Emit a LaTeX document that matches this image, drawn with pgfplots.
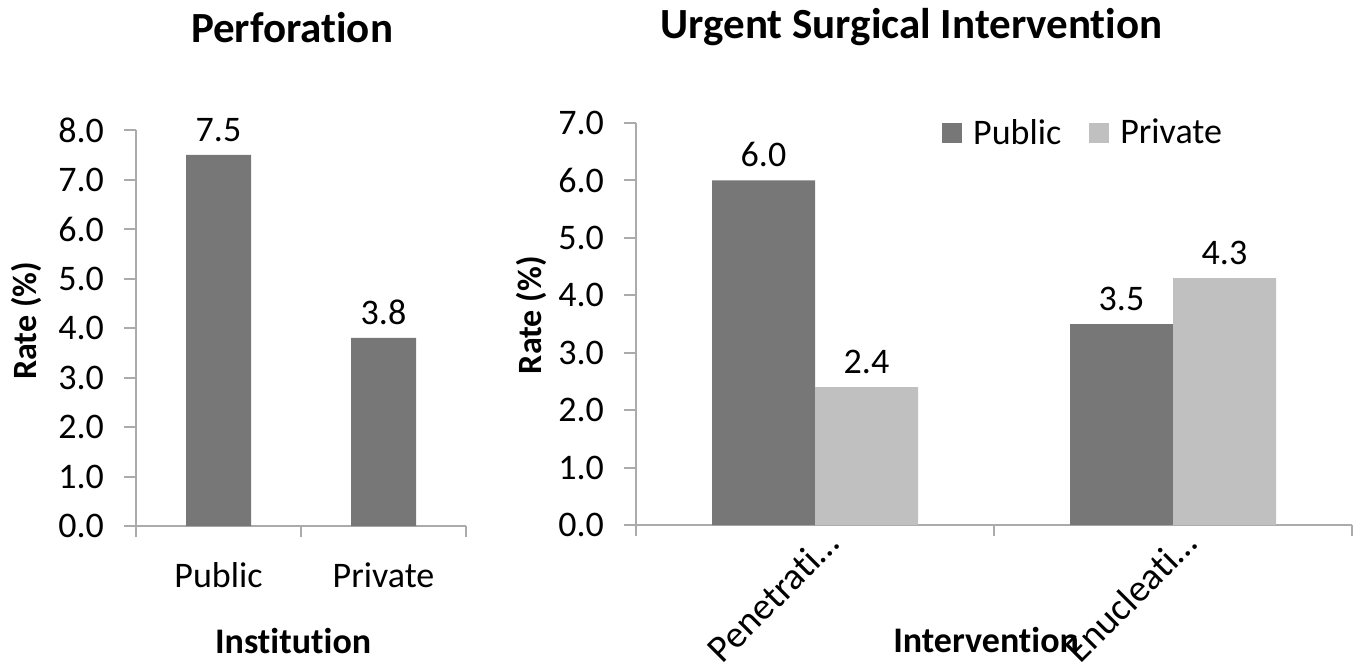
\documentclass[border=0pt]{standalone}
\usepackage{fontspec}
\setmainfont{Carlito}[RawFeature={-liga;-clig}]
\usepackage{pgfplots}
\pgfplotsset{compat=1.18}

\definecolor{darkbar}{HTML}{777777}
\definecolor{lightbar}{HTML}{C0C0C0}
\definecolor{axisgray}{HTML}{ABABAB}

\pgfplotsset{
  excelbar/.style={
    scale only axis,
    axis x line*=bottom,
    axis y line*=left,
    axis line style={draw=axisgray, line width=1pt, -},
    tick align=outside,
    ymin=0,
    xmin=-0.5, xmax=1.5,
    xtick={0,1},
    major x tick style={draw=none},
    minor xtick={-0.5,0.5,1.5},
    minor tick length=5.5pt,
    minor x tick style={draw=axisgray, line width=1pt},
    major tick length=6pt,
    major y tick style={draw=axisgray, line width=1pt},
    ytick distance=1,
    yticklabel style={
      font=\fontsize{18}{20}\selectfont, xshift=-6.5pt,
      /pgf/number format/.cd, fixed, fixed zerofill, precision=1, assume math mode=true},
    xticklabel style={font=\fontsize{18}{20}\selectfont},
    ylabel style={font=\bfseries\fontsize{17}{19}\selectfont, anchor=base},
    xlabel style={font=\bfseries\fontsize{18}{20}\selectfont, anchor=base},
    title style={font=\bfseries\fontsize{21.5}{24}\selectfont, anchor=base, yshift=-6pt},
    nodes near coords={\pgfmathprintnumber[fixed,fixed zerofill,precision=1,assume math mode=true]{\pgfplotspointmeta}},
    nodes near coords style={font=\fontsize{18}{20}\selectfont, anchor=south, inner sep=0pt, yshift=6.5pt, text=black},
    ylabel={Rate (\%)},
  }
}

\begin{document}
\begin{tikzpicture}
\path[use as bounding box] (0,0) rectangle (681.5pt,-335.5pt);

% Perforation rate by institution
\begin{axis}[
  excelbar,
  at={(68pt,-263pt)}, anchor=south west,
  width=165pt, height=198pt,
  ymax=8,
  ybar, bar width=32.5pt,
  xticklabels={Public, Private},
  xticklabel style={anchor=base, yshift=-24.5pt},
  title={Perforation},
  title style={at={(rel axis cs:0.473,1.222)}},
  xlabel={Institution},
  xlabel style={at={(rel axis cs:0.476,-0.3207)}},
  ylabel style={at={(rel axis cs:-0.3,0.518)}},
]
\addplot[fill=darkbar, draw=none] coordinates {(0,7.5) (1,3.8)};
\end{axis}

% Urgent surgical intervention by type and institution
\begin{axis}[
  excelbar,
  at={(318pt,-262.5pt)}, anchor=south west,
  width=358pt, height=201pt,
  ymax=7,
  ybar=0pt, bar width=51.5pt,
  xticklabels={Penetrati…, Enucleati…},
  xticklabel style={xshift=11pt, yshift=2.5pt, rotate=45, anchor=east,
    font=\fontsize{19}{21}\selectfont},
  title={Urgent Surgical Intervention},
  title style={at={(rel axis cs:0.385,1.2114)}},
  xlabel={Intervention},
  xlabel style={at={(rel axis cs:0.489,-0.3159)}},
  ylabel style={at={(rel axis cs:-0.1313,0.522)}},
  legend columns=2,
  legend style={draw=none, fill=none, at={(rel axis cs:0.427,0.975)}, anchor=west,
    inner sep=0pt, font=\fontsize{18}{20}\selectfont,
    /tikz/every even column/.append style={column sep=12pt}},
  legend image code/.code={\fill[#1] (0pt,-5pt) rectangle (10pt,5pt); \path (13.5pt,0pt);},
]
\addplot[fill=darkbar, draw=none] coordinates {(0,6.0) (1,3.5)};
\addplot[fill=lightbar, draw=none] coordinates {(0,2.4) (1,4.3)};
\legend{Public, Private}
\end{axis}
\end{tikzpicture}
\end{document}
